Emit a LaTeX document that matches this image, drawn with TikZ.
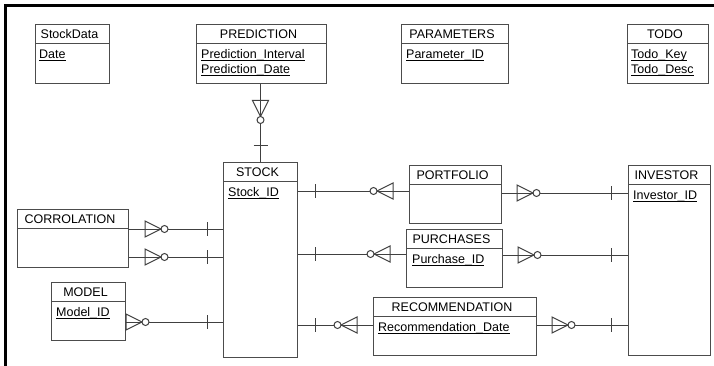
\documentclass[tikz,border=0pt]{standalone}
\usepackage{fontspec}
\setmainfont{Liberation Sans}
\usetikzlibrary{positioning,calc}

\newcommand{\keyattr}[1]{\setbox0\hbox{#1}\rlap{\rule[-2.6pt]{\wd0}{1.3pt}}\box0}

\tikzset{
  entity/.style={draw=black!70, line width=1pt, rectangle, inner sep=0pt, anchor=north west},
  etitle/.style={anchor=base, inner sep=0pt},
  attr/.style={anchor=base west, inner sep=0pt},
  link/.style={draw=black!75, line width=1pt},
  onebar/.pic={\draw[link] (0,-7) -- (0,7);},
  manyopt/.pic={\draw[link] (0,-8) -- (16,0) -- (0,8) -- cycle;
                \draw[link, fill=white] (19.5,0) circle (3.5);}
}

\begin{document}
\begin{tikzpicture}[x=1pt, y=-1pt, font=\fontsize{12.5}{15}\selectfont]
  \useasboundingbox (0,0) rectangle (714,366);
  \draw[line width=2.6pt] (5.3,366) -- (5.3,5.3) -- (714,5.3);

  % entities
  \node[entity, minimum width=74pt, minimum height=59pt] (stockdata) at (35,24) {};
  \node[entity, minimum width=130pt, minimum height=59pt] (prediction) at (196,24) {};
  \node[entity, minimum width=107pt, minimum height=59pt] (parameters) at (401,24) {};
  \node[entity, minimum width=81pt, minimum height=59pt] (todo) at (627,24) {};
  \node[entity, minimum width=74pt, minimum height=195pt] (stock) at (223,162) {};
  \node[entity, minimum width=92pt, minimum height=58pt] (portfolio) at (409,165) {};
  \node[entity, minimum width=82pt, minimum height=190pt] (investor) at (628,165) {};
  \node[entity, minimum width=96pt, minimum height=58pt] (purchases) at (406,229) {};
  \node[entity, minimum width=163pt, minimum height=58pt] (recommendation) at (373,297) {};
  \node[entity, minimum width=111pt, minimum height=58pt] (corrolation) at (17,209) {};
  \node[entity, minimum width=74pt, minimum height=58pt] (model) at (51,282) {};

  \foreach \e/\t in {stockdata/StockData, prediction/PREDICTION, parameters/PARAMETERS,
      todo/TODO, stock/STOCK, portfolio/PORTFOLIO, investor/INVESTOR,
      purchases/PURCHASES, recommendation/RECOMMENDATION, corrolation/CORROLATION, model/MODEL} {
    \draw[link, draw=black!70] ([yshift=-19.5pt]\e.north west) -- ([yshift=-19.5pt]\e.north east);
    \node[etitle] at ([xshift=-3pt, yshift=-14.5pt]\e.north) {\t};
  }

  % key attributes
  \node[attr] at ([xshift=4pt, yshift=-34.5pt]stockdata.north west) {\keyattr{Date}};
  \node[attr] at ([xshift=5pt, yshift=-34.5pt]prediction.north west) {\keyattr{Prediction\_Interval}};
  \node[attr] at ([xshift=5pt, yshift=-49.5pt]prediction.north west) {\keyattr{Prediction\_Date}};
  \node[attr] at ([xshift=5pt, yshift=-34.5pt]parameters.north west) {\keyattr{Parameter\_ID}};
  \node[attr] at ([xshift=4pt, yshift=-34.5pt]todo.north west) {\keyattr{Todo\_Key}};
  \node[attr] at ([xshift=4pt, yshift=-49.5pt]todo.north west) {\keyattr{Todo\_Desc}};
  \node[attr] at ([xshift=5pt, yshift=-34.5pt]stock.north west) {\keyattr{Stock\_ID}};
  \node[attr] at ([xshift=5pt, yshift=-34.5pt]investor.north west) {\keyattr{Investor\_ID}};
  \node[attr] at ([xshift=6pt, yshift=-34.5pt]purchases.north west) {\keyattr{Purchase\_ID}};
  \node[attr] at ([xshift=5pt, yshift=-34.5pt]recommendation.north west) {\keyattr{Recommendation\_Date}};
  \node[attr] at ([xshift=5pt, yshift=-34.5pt]model.north west) {\keyattr{Model\_ID}};

  % relationships
  \draw[link] (prediction.south -| stock.north) -- (stock.north);
  \path (prediction.south -| stock.north) ++(0,16.5) pic[rotate=-90] {manyopt}
        (stock.north) ++(0,-16) pic[rotate=90] {onebar};

  \foreach \e/\y in {portfolio/191, purchases/254, recommendation/325} {
    \draw[link] (stock.east |- 0,\y) -- (\e.west |- 0,\y);
    \path (stock.east |- 0,\y) ++(17,0) pic {onebar}
          (\e.west |- 0,\y) ++(-16,0) pic[rotate=180] {manyopt};
  }
  \foreach \e/\y in {portfolio/193, purchases/255, recommendation/325} {
    \draw[link] (\e.east |- 0,\y) -- (investor.west |- 0,\y);
    \path (\e.east |- 0,\y) ++(15,0) pic {manyopt}
          (investor.west |- 0,\y) ++(-17,0) pic {onebar};
  }
  \foreach \e/\y/\d in {corrolation/229/16, corrolation/257/16, model/322/0} {
    \draw[link] (\e.east |- 0,\y) -- (stock.west |- 0,\y);
    \path (\e.east |- 0,\y) ++(\d,0) pic {manyopt}
          (stock.west |- 0,\y) ++(-16,0) pic {onebar};
  }
\end{tikzpicture}
\end{document}
